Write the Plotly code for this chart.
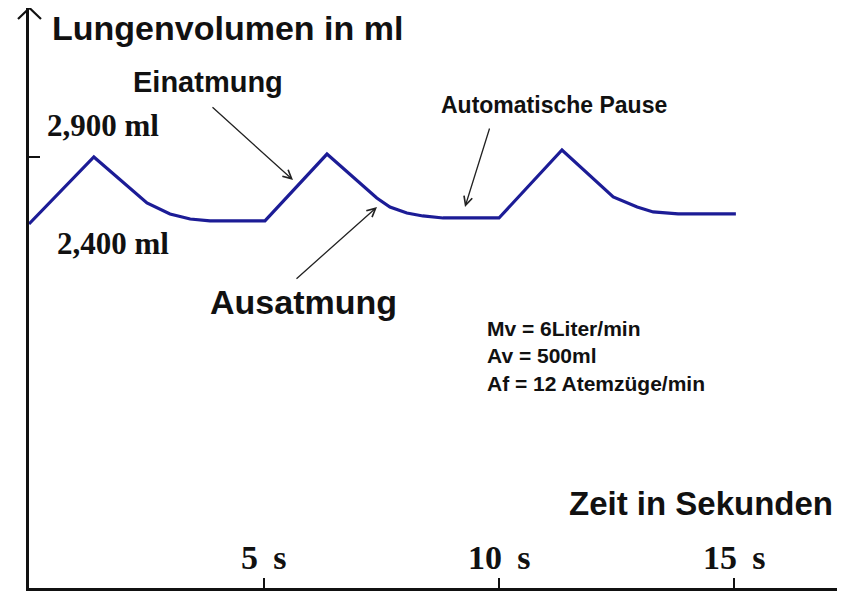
import plotly.graph_objects as go

# ---- data ----
time_s = [0.0, 1.38, 2.51, 2.79, 3.0, 3.43, 3.85, 5.02, 6.34, 7.40, 7.68, 8.04, 8.38, 8.81, 10.0,
          11.34, 12.43, 12.94, 13.28, 13.81, 15.04]
volume_ml = [2400, 2900, 2557, 2512, 2475, 2437, 2423, 2423, 2922, 2594, 2527, 2482, 2460, 2445, 2445,
             2952, 2602, 2527, 2490, 2475, 2475]
x_ticks = [5, 10, 15]
x_tick_labels = ["5 s", "10 s", "15 s"]
y_ticks = [2900]
y_labels = ["2,900 ml", "2,400 ml"]
info_lines = ["Mv = 6Liter/min", "Av = 500ml", "Af = 12 Atemzüge/min"]

# page body has an 8px margin: work in screen pixels, shift by OFF
OFF = 8
SCR_W, SCR_H = 845, 597
W, H = SCR_W - OFF, SCR_H - OFF
AX_LEFT, AX_TOP, AX_BOTTOM = 29, 8, 588          # screen pixels
L = AX_LEFT - OFF
T = AX_TOP - OFF
B = H - (AX_BOTTOM - OFF)
R = 0
PW, PH = W - L - R, H - T - B

def px(x):
    return (x - AX_LEFT) / PW

def py(y):
    return (AX_BOTTOM - y) / PH

SANS = "Liberation Sans, Arial, sans-serif"
SERIF = "Liberation Serif, Times New Roman, serif"

fig = go.Figure()
fig.add_trace(go.Scatter(
    x=time_s, y=volume_ml, mode="lines",
    line=dict(color="#1c1c96", width=3.2),
    hoverinfo="skip", showlegend=False,
))

annotations = []

def text(t, x, y, size, family=SANS, xanchor="center", yanchor="middle", align="center"):
    annotations.append(dict(
        text="<b>" + t + "</b>", x=px(x), y=py(y), xref="paper", yref="paper",
        showarrow=False, xanchor=xanchor, yanchor=yanchor, align=align,
        font=dict(family=family, size=size, color="#111111"),
    ))

def arrow(tx, ty, hx, hy):
    annotations.append(dict(
        text="", x=px(hx), y=py(hy), xref="paper", yref="paper",
        ax=tx - hx, ay=ty - hy, axref="pixel", ayref="pixel",
        showarrow=True, arrowhead=5, arrowwidth=1.3, arrowsize=1.3,
        arrowcolor="#222222",
    ))

text("Lungenvolumen in ml", 50, 28, 34, xanchor="left")
text("Einatmung", 208, 82, 29)
text(y_labels[0], 45, 125, 31, family=SERIF, xanchor="left")
text(y_labels[1], 55, 243, 31, family=SERIF, xanchor="left")
text("Ausatmung", 303, 302, 34)
text("Automatische Pause", 554, 105, 23)
text("<br>".join(info_lines), 485, 356, 21, xanchor="left", align="left")
text("Zeit in Sekunden", 567, 504, 33, xanchor="left")

for v, lab in zip(x_ticks, x_tick_labels):
    annotations.append(dict(
        text="<b>" + lab.replace(" ", "&nbsp;\u2009") + "</b>", x=v, y=py(557), xref="x", yref="paper",
        showarrow=False, xanchor="center", yanchor="middle",
        font=dict(family=SERIF, size=34, color="#111111"),
    ))

arrow(211, 106, 293, 180)
arrow(295, 280, 377, 207)
arrow(490, 127, 465, 207)

shapes = [dict(
    type="path", xref="paper", yref="paper",
    path=f"M {px(18)} {py(19)} L {px(29.5)} {py(8)} L {px(41)} {py(19)}",
    line=dict(color="#111111", width=2.2),
)]

fig.update_layout(
    width=W, height=H,
    margin=dict(l=L, r=R, t=T, b=B, pad=0),
    plot_bgcolor="white", paper_bgcolor="white",
    annotations=annotations, shapes=shapes,
    xaxis=dict(
        range=[0, PW / 47.0], showgrid=False, zeroline=False,
        showline=True, linecolor="#111111", linewidth=2.5,
        tickmode="array", tickvals=x_ticks, ticks="inside", ticklen=10,
        tickwidth=2, tickcolor="#111111", showticklabels=False,
    ),
    yaxis=dict(
        range=[2900 - (AX_BOTTOM - 157) / 0.134, 2900 + (157 - AX_TOP) / 0.134],
        showgrid=False, zeroline=False,
        showline=True, linecolor="#111111", linewidth=2.5,
        tickmode="array", tickvals=y_ticks, ticks="inside", ticklen=11,
        tickwidth=2, tickcolor="#111111", showticklabels=False,
    ),
)

fig.write_html("out.html")
